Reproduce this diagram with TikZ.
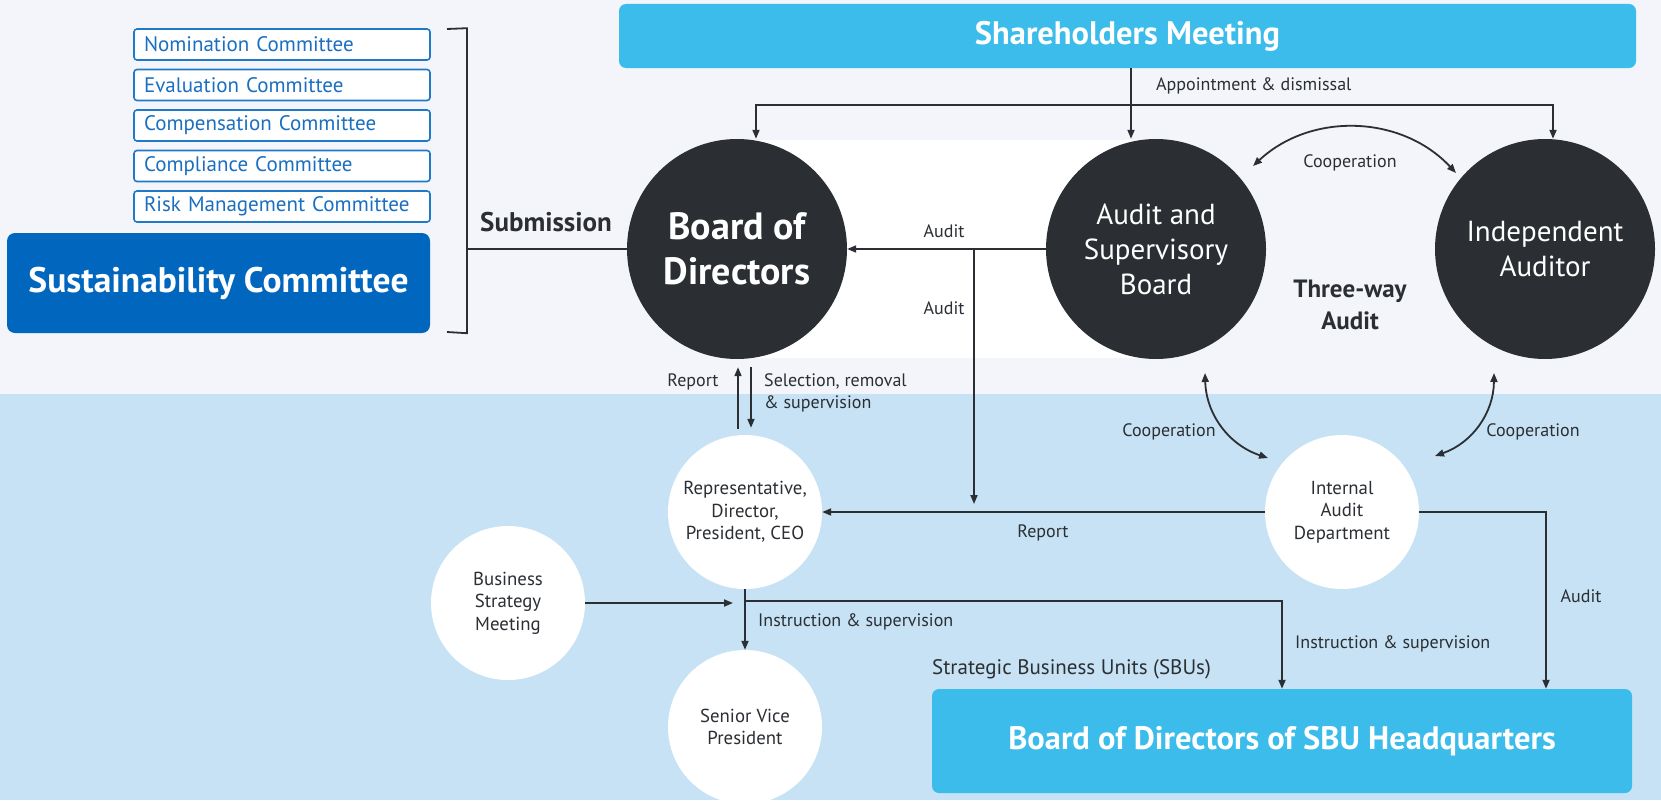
\documentclass[tikz,border=0pt]{standalone}
\usepackage{fontspec}
\setmainfont{PT Sans}
\usetikzlibrary{arrows.meta}
\definecolor{bggrey}{HTML}{F3F5FA}
\definecolor{bgblue}{HTML}{C6E2F4}
\definecolor{darkc}{HTML}{2B2F33}
\definecolor{cyanb}{HTML}{3BBCEA}
\definecolor{navy}{HTML}{0066BE}
\definecolor{comblue}{HTML}{1F78C8}
\definecolor{comtext}{HTML}{1A6FC0}

\begin{document}
\begin{tikzpicture}[x=1pt,y=-1pt,
    bigc/.style={circle,fill=darkc,text=white,minimum size=220pt,inner sep=0pt,align=center,font=\fontsize{29}{35}\selectfont},
    smallc/.style={circle,fill=white,text=darkc,minimum size=154pt,inner sep=0pt,align=center,font=\fontsize{18.8}{22.5}\selectfont},
    com/.style={draw=comblue,line width=1.6pt,fill=white,rounded corners=3pt,minimum height=31pt,
      text width=276pt,inner xsep=10pt,inner ysep=0pt,align=left,text=comtext,font=\fontsize{21}{21}\selectfont},
    box/.style={fill=cyanb,rounded corners=7pt,text=white,inner sep=0pt},
    lbl/.style={text=darkc,inner sep=0pt,font=\fontsize{18}{22}\selectfont},
    link/.style={draw=darkc,line width=1.8pt},
    arr/.style={link,-{Triangle[length=9pt,width=7pt]}},
    arrr/.style={link,{Triangle[length=9pt,width=7pt]}-{Triangle[length=9pt,width=7pt]}}]
  \useasboundingbox (0,0) rectangle (1661,800);
  \fill[bggrey] (0,0) rectangle (1661,394);
  \fill[bgblue] (0,394) rectangle (1661,800);
  \fill[white] (737,140) rectangle (1156,358);

  % committees
  \node[com] (c1) at (282,44.5) {Nomination Committee};
  \node[com] (c2) at (282,85) {Evaluation Committee};
  \node[com] (c3) at (282,125.5) {Compensation Committee};
  \node[com] (c4) at (282,166) {Compliance Committee};
  \node[com] (c5) at (282,206.5) {Risk Management Committee};
  \node[fill=navy,rounded corners=8pt,minimum width=423pt,minimum height=100pt,inner sep=0pt,text=white,
    font=\bfseries\fontsize{35.5}{35.5}\selectfont] (sc) at (218.5,283) {Sustainability Committee};

  % main bodies
  \node[box,minimum width=1017pt,minimum height=64pt,font=\bfseries\fontsize{32.5}{32.5}\selectfont] (sh) at (1127.5,36) {Shareholders Meeting};
  \node[bigc,font=\bfseries\fontsize{38}{45}\selectfont] (bd) at (737,249) {Board of\\Directors};
  \node[bigc] (as) at (1156,249) {Audit and\\Supervisory\\Board};
  \node[bigc] (ia) at (1545,249) {Independent\\Auditor};
  \node[smallc] (rp) at (745,512) {Representative,\\Director,\\President, CEO};
  \node[smallc] (bs) at (508,603) {Business\\Strategy\\Meeting};
  \node[smallc] (sv) at (745,727) {Senior Vice\\President};
  \node[smallc] (ad) at (1342,512) {Internal\\Audit\\Department};
  \node[box,minimum width=700pt,minimum height=104pt,font=\bfseries\fontsize{32.5}{32.5}\selectfont] (sb) at (1282,741) {Board of Directors of SBU Headquarters};
  \node[lbl,anchor=west,font=\fontsize{21}{22}\selectfont] (su) at (932,669) {Strategic Business Units (SBUs)};

  \coordinate (ap) at (1131,105);
  \coordinate (br) at (467,249);
  \coordinate (au) at (974,249);
  \coordinate (au2) at (974,504);
  \coordinate (in) at (745,601);
  \coordinate (bx) at (733,603);
  \coordinate (k1) at (1253,166);
  \coordinate (k2) at (1456,173);
  \coordinate (k3) at (1205,373);
  \coordinate (k4) at (1268,458);
  \coordinate (k5) at (1494,373);
  \coordinate (k6) at (1435,456);

  % submission bracket
  \draw[link] (447,29) -- (br |- c1.north) -- (br |- sc.south) -- (447,332);
  \draw[link] (br) -- (bd.west);
  \node[lbl,font=\bfseries\fontsize{27}{27}\selectfont] (sm) at (546,222) {Submission};

  % appointment
  \draw[arr] (sh.south -| ap) -- (ap) -- (ap |- as.north);
  \draw[arr] (ap) -| ([xshift=19pt]bd.north);
  \draw[arr] (ap) -| ([xshift=8pt]ia.north);
  \node[lbl,anchor=west] (apl) at (1156,86) {Appointment \& dismissal};

  % audit
  \draw[link] (as.west) -- (au);
  \draw[arr] (au) -- (bd.east);
  \draw[arr] (au) -- (au2);
  \node[lbl] (a1) at (944,231) {Audit};
  \node[lbl] (a2) at (944,308) {Audit};

  % report / selection
  \draw[arr,shorten <=6pt,shorten >=8pt] ([xshift=-7pt]rp.north) -- ([xshift=1pt]bd.south);
  \draw[arr,shorten <=8pt,shorten >=7pt] ([xshift=14pt]bd.south) -- ([xshift=6pt]rp.north);
  \node[lbl] (r1) at (693,382) {Report};
  \node[lbl,anchor=west,align=left] (sl) at (764,393) {Selection, removal\\\& supervision};

  % cooperation
  \draw[arrr] (k1) to[bend left=45] (k2);
  \draw[arrr] (k3) to[bend right=35] (k4);
  \draw[arrr] (k5) to[bend left=35] (k6);
  \node[lbl] (co1) at (1350,163) {Cooperation};
  \node[lbl] (co2) at (1169,432) {Cooperation};
  \node[lbl] (co3) at (1533,432) {Cooperation};
  \node[lbl,align=center,font=\bfseries\fontsize{25}{32}\selectfont] (tw) at (1350,305) {Three-way\\Audit};

  % internal audit
  \draw[arr] (ad.west) -- (rp.east);
  \node[lbl] (r2) at (1043,533) {Report};
  \draw[arr] (ad.east) -| ([xshift=264pt]sb.north);
  \node[lbl] (a3) at (1581,596) {Audit};

  % instruction
  \draw[arr] (rp.south) -- (sv.north);
  \draw[arr] (in) -| (sb.north);
  \draw[arr] (bs.east) -- (bx);
  \node[lbl,anchor=west] (i1) at (758,622) {Instruction \& supervision};
  \node[lbl,anchor=west] (i2) at (1295,644) {Instruction \& supervision};
\end{tikzpicture}
\end{document}
